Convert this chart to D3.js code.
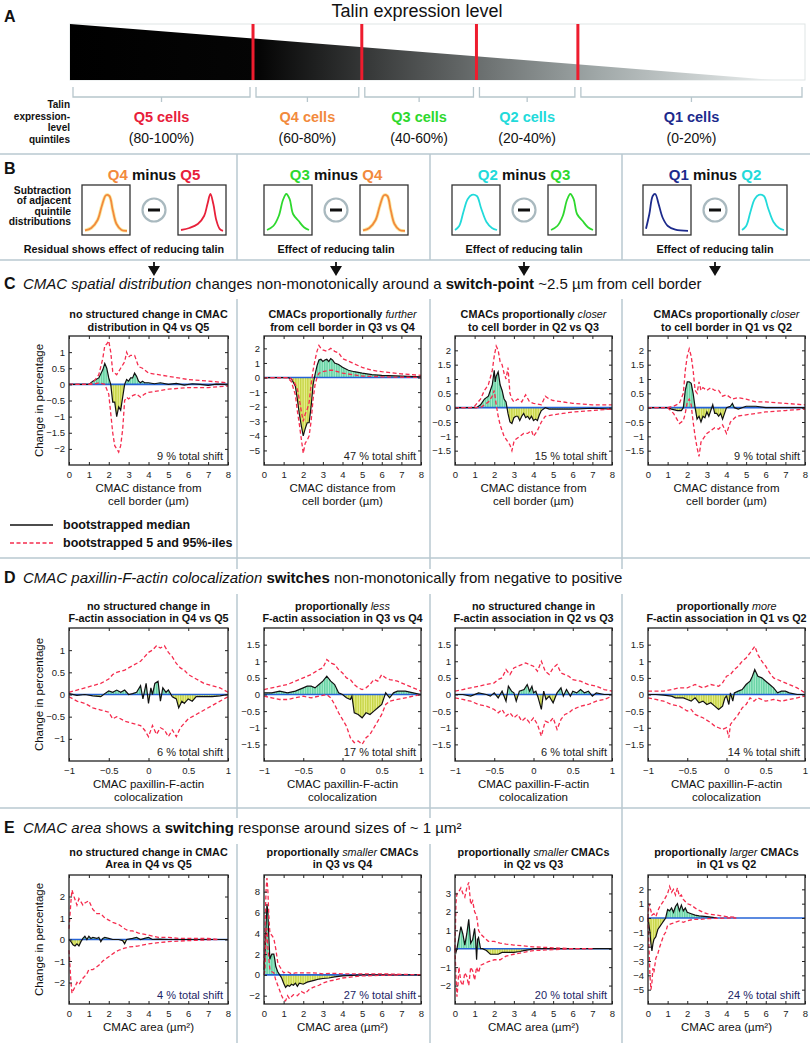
<!DOCTYPE html>
<html><head><meta charset="utf-8">
<script src="https://cdn.jsdelivr.net/npm/d3@7"></script>
<style>body{margin:0;background:#fff}svg{display:block}text{white-space:pre}</style>
</head><body>
<svg id="fig" width="810" height="1043"></svg>
<script>
// ---------------- DATA ----------------
const quintiles = ["Q5","Q4","Q3","Q2","Q1"];
const quintileRanges = ["(80-100%)","(60-80%)","(40-60%)","(20-40%)","(0-20%)"];
const quintileColors = {Q5:"#e8203a",Q4:"#f28a3c",Q3:"#2ed82e",Q2:"#22dada",Q1:"#1c2a8c"};
const talinBoundaries = [75.1, 60.3, 44.7, 30.9];   // expression level (%) at the red cut lines
const wedgeEndLevel = 4.1;                          // level where the wedge reaches zero
const comparisons = [["Q4","Q5"],["Q3","Q4"],["Q2","Q3"],["Q1","Q2"]];
const effectLabels = ["Residual shows effect of reducing talin","Effect of reducing talin","Effect of reducing talin","Effect of reducing talin"];
// schematic distributions in panel B (position 0-1, relative height 0-1)
const miniCurves = {
  Q5:[[0,0.05],[0.2,0.1],[0.4,0.2],[0.55,0.4],[0.63,0.7],[0.7,0.95],[0.77,0.7],[0.84,0.3],[0.92,0.08],[1,0.03]],
  Q4:[[0,0.04],[0.15,0.1],[0.3,0.3],[0.4,0.65],[0.5,0.92],[0.58,0.9],[0.66,0.55],[0.75,0.2],[0.87,0.05],[1,0.03]],
  Q3:[[0,0.05],[0.15,0.15],[0.28,0.4],[0.38,0.8],[0.46,0.95],[0.54,0.82],[0.62,0.45],[0.75,0.28],[0.88,0.12],[1,0.05]],
  Q2:[[0,0.05],[0.1,0.15],[0.2,0.5],[0.3,0.82],[0.4,0.93],[0.52,0.9],[0.62,0.6],[0.75,0.25],[0.88,0.1],[1,0.05]],
  Q1:[[0,0.08],[0.08,0.45],[0.16,0.9],[0.22,0.95],[0.3,0.7],[0.4,0.35],[0.52,0.15],[0.7,0.06],[1,0.03]]
};
const headingC = "*CMAC spatial distribution* changes non-monotonically around a **switch-point** ~2.5 µm from cell border";
const headingD = "*CMAC paxillin-F-actin colocalization* **switches** non-monotonically from negative to positive";
const headingE = "*CMAC area* shows a **switching** response around sizes of ~ 1 µm²";

const titlesC = [["no structured change in CMAC","distribution in Q4 vs Q5"],["CMACs proportionally *further*","from cell border in Q3 vs Q4"],["CMACs proportionally *closer*","to cell border in Q2 vs Q3"],["CMACs proportionally *closer*","to cell border in Q1 vs Q2"]];
const titlesD = [["no structured change in","F-actin association in Q4 vs Q5"],["proportionally *less*","F-actin association in Q3 vs Q4"],["no structured change in","F-actin association in Q2 vs Q3"],["proportionally *more*","F-actin association in Q1 vs Q2"]];
const titlesE = [["no structured change in CMAC","Area in Q4 vs Q5"],["proportionally *smaller* CMACs","in Q3 vs Q4"],["proportionally *smaller* CMACs","in Q2 vs Q3"],["proportionally *larger* CMACs","in Q1 vs Q2"]];
const shiftC = [9,47,15,9], shiftD = [6,17,6,14], shiftE = [4,27,20,24];
const xLabelC = ["CMAC distance from","cell border (µm)"], xLabelD = ["CMAC paxillin-F-actin","colocalization"], xLabelE = ["CMAC area (µm²)"];
const yLabel = "Change in percentage";
const legendLabels = ["bootstrapped median","bootstrapped 5 and 95%-iles"];

const xTicksC = [0,1,2,3,4,5,6,7,8], xTicksD = [-1,-0.5,0,0.5,1], xTicksE = [0,1,2,3,4,5,6,7,8];
const yDomC = [[-2.5,1.5],[-6,2.85],[-2,2.5],[-2,2.5]];
const yTicksC = [[-2,-1.5,-1,-0.5,0,0.5,1],[-5,-4,-3,-2,-1,0,1,2],[-1.5,-1,-0.5,0,0.5,1,1.5,2],[-1.5,-1,-0.5,0,0.5,1,1.5,2]];
const yDomD = [[-1.5,1.5],[-2,2],[-2,2],[-2,2]];
const yTicksD = [[-1,-0.5,0,0.5,1],[-1.5,-1,-0.5,0,0.5,1,1.5],[-1.5,-1,-0.5,0,0.5,1,1.5],[-1.5,-1,-0.5,0,0.5,1,1.5]];
const yDomE = [[-3,3],[-2.8,9.6],[-3,4],[-6,3]];
const yTicksE = [[-2,-1,0,1,2],[-2,0,2,4,6,8],[-2,-1,0,1,2,3],[-5,-4,-3,-2,-1,0,1,2]];

// Panel C : CMAC distance from cell border (µm) vs change (%)
const c1Median = [[0,0],[1,0],[1.2,0.1],[1.5,0.2],[1.7,0.45],[1.8,0.65],[1.9,0.5],[2.0,0.2],[2.1,0],[2.2,-0.55],[2.3,-0.55],[2.4,-1.0],[2.5,-0.7],[2.6,-0.8],[2.7,-0.4],[2.8,0],[2.9,0.15],[3.0,0.1],[3.1,0.2],[3.2,0.2],[3.3,0.35],[3.4,0.25],[3.5,0.1],[3.6,0.05],[3.7,0.1],[3.8,0.05],[4.0,0.05],[4.3,0.02],[4.6,0.05],[5.0,0],[5.4,0.03],[5.8,-0.02],[6.2,0.02],[6.6,0],[7.0,-0.03],[7.4,0.01],[8,0]];
const c1Upper = [[0,0],[1.0,0],[1.2,0.05],[1.5,0.3],[1.7,0.8],[1.8,1.2],[1.9,1.25],[2.0,1.35],[2.1,1.0],[2.2,0.4],[2.4,0.3],[2.6,0.5],[2.8,0.7],[2.9,1.0],[3.0,0.85],[3.1,0.9],[3.3,0.9],[3.5,0.55],[3.7,0.5],[4.0,0.35],[4.5,0.3],[5.0,0.25],[5.5,0.2],[6.0,0.15],[7.0,0.1],[8,0.05]];
const c1Lower = [[0,0],[1.2,0],[1.5,0.05],[1.8,0],[2.0,-0.3],[2.1,-0.9],[2.2,-1.5],[2.3,-1.9],[2.5,-2.1],[2.6,-1.9],[2.7,-1.4],[2.8,-0.5],[2.9,-0.4],[3.0,-0.45],[3.2,-0.35],[3.4,-0.3],[3.6,-0.4],[3.8,-0.3],[4.0,-0.25],[4.5,-0.2],[5.0,-0.15],[6.0,-0.1],[7.0,-0.1],[8,-0.05]];
const c2Median = [[0,0],[1.2,0],[1.4,-0.1],[1.6,-0.6],[1.7,-1.5],[1.8,-2.5],[1.9,-3.3],[2.0,-4.0],[2.1,-3.5],[2.2,-3.1],[2.3,-3.1],[2.4,-2.0],[2.5,-0.5],[2.6,0.2],[2.7,0.8],[2.8,1.2],[2.9,1.25],[3.0,1.1],[3.1,1.2],[3.2,1.25],[3.3,1.1],[3.4,1.3],[3.5,1.2],[3.6,1.0],[3.8,0.9],[4.0,0.7],[4.3,0.5],[4.6,0.4],[5.0,0.3],[5.5,0.2],[6.0,0.15],[7.0,0.1],[8,0.05]];
const c2Upper = [[0,0],[1.3,0],[1.5,-0.2],[1.7,-0.8],[1.8,-1.5],[1.9,-2.3],[2.0,-3.0],[2.1,-2.5],[2.2,-2.2],[2.3,-1.7],[2.4,-0.5],[2.5,0.5],[2.6,1.2],[2.7,1.8],[2.8,2.2],[2.9,2.0],[3.0,1.9],[3.2,1.8],[3.4,2.0],[3.6,1.8],[3.8,1.7],[4.0,1.3],[4.5,1.0],[5.0,0.7],[5.5,0.5],[6.0,0.4],[7.0,0.25],[8,0.15]];
const c2Lower = [[0,0],[1.2,0],[1.4,-0.3],[1.6,-1.2],[1.7,-2.3],[1.8,-3.2],[1.9,-4.2],[2.0,-5.2],[2.1,-4.5],[2.2,-4.3],[2.3,-4.0],[2.4,-3.0],[2.5,-1.5],[2.6,-0.5],[2.7,0],[2.8,0.3],[3.0,0.4],[3.3,0.5],[3.5,0.5],[4.0,0.3],[4.5,0.2],[5.0,0.1],[6.0,0.05],[8,0]];
const c3Median = [[0,0],[1.1,0],[1.3,0.1],[1.5,0.3],[1.7,0.4],[1.8,0.6],[1.9,0.8],[2.0,1.3],[2.05,0.9],[2.1,1.1],[2.2,1.25],[2.3,0.8],[2.4,0.6],[2.5,0.3],[2.6,0.2],[2.7,-0.2],[2.8,-0.5],[2.9,-0.55],[3.0,-0.35],[3.1,-0.3],[3.2,-0.3],[3.3,-0.45],[3.4,-0.3],[3.5,-0.2],[3.6,-0.35],[3.7,-0.3],[3.8,-0.4],[3.9,-0.3],[4.0,-0.45],[4.1,-0.4],[4.2,-0.45],[4.3,-0.25],[4.4,-0.1],[4.6,0],[4.8,-0.05],[5.0,-0.05],[5.5,-0.05],[6.0,-0.05],[7.0,-0.02],[8,-0.05]];
const c3Upper = [[0,0],[0.8,0],[1.0,0.05],[1.3,0.3],[1.5,0.6],[1.7,0.8],[1.9,1.3],[2.0,1.8],[2.1,2.15],[2.2,2.0],[2.3,1.6],[2.4,1.5],[2.5,1.2],[2.6,1.0],[2.7,1.4],[2.8,0.5],[2.9,0.3],[3.0,0.2],[3.2,0.3],[3.4,0.2],[3.6,0.45],[3.8,0.2],[4.0,0.15],[4.4,0.1],[4.6,0.4],[4.8,0.3],[5.0,0.25],[5.5,0.2],[6.0,0.15],[7.0,0.1],[8,0.1]];
const c3Lower = [[0,0],[1.3,0],[1.5,0.1],[1.7,0.2],[1.9,0.4],[2.0,0.6],[2.1,0.1],[2.2,-0.3],[2.3,-0.6],[2.5,-1.0],[2.7,-1.2],[2.8,-1.3],[2.9,-1.5],[3.0,-1.2],[3.1,-1.1],[3.3,-1.0],[3.5,-0.9],[3.7,-0.9],[3.9,-0.8],[4.0,-1.0],[4.2,-0.8],[4.4,-0.5],[4.6,-0.3],[5.0,-0.25],[5.5,-0.2],[6.0,-0.15],[7.0,-0.1],[8,-0.05]];
const c4Median = [[0,0],[1.0,0],[1.2,-0.05],[1.5,-0.1],[1.7,-0.1],[1.8,0],[1.9,0.6],[2.0,0.9],[2.1,0.9],[2.2,0.85],[2.3,0.5],[2.4,0],[2.5,-0.4],[2.6,-0.3],[2.7,-0.5],[2.8,-0.3],[2.9,-0.35],[3.0,-0.15],[3.1,-0.3],[3.2,-0.1],[3.3,0.1],[3.4,-0.2],[3.5,-0.2],[3.6,-0.3],[3.7,-0.2],[3.8,-0.4],[3.9,-0.2],[4.0,0],[4.2,0.05],[4.3,0.15],[4.4,0],[4.6,-0.05],[5.0,0.05],[5.5,0.05],[6.0,0],[7.0,0],[8,0]];
const c4Upper = [[0,0],[1.0,0],[1.3,0.05],[1.6,0.15],[1.8,0.5],[1.9,1.3],[2.0,1.8],[2.1,2.05],[2.2,1.8],[2.3,1.3],[2.4,0.6],[2.5,0.5],[2.6,0.9],[2.7,0.6],[2.8,0.7],[3.0,0.6],[3.2,0.7],[3.4,0.6],[3.6,0.6],[3.8,0.4],[4.0,0.45],[4.3,0.3],[4.6,0.35],[5.0,0.3],[5.5,0.2],[6.0,0.2],[7.0,0.15],[8,0.1]];
const c4Lower = [[0,0],[1.0,0],[1.3,-0.2],[1.6,-0.55],[1.8,-0.45],[1.9,-0.2],[2.0,0.2],[2.1,0.3],[2.2,0.1],[2.3,-0.5],[2.4,-1.0],[2.5,-1.4],[2.6,-1.7],[2.7,-1.2],[2.8,-1.1],[3.0,-0.9],[3.2,-0.8],[3.4,-0.7],[3.6,-0.75],[3.8,-0.6],[4.0,-0.9],[4.2,-0.5],[4.5,-0.3],[5.0,-0.25],[5.5,-0.2],[6.0,-0.15],[7.0,-0.1],[8,-0.05]];

// Panel D : paxillin-F-actin colocalization vs change (%)
const d1Median = [[-1,0.02],[-0.9,-0.02],[-0.8,0],[-0.7,-0.03],[-0.6,-0.05],[-0.55,0.02],[-0.5,0.08],[-0.45,0.05],[-0.4,0.1],[-0.35,0.05],[-0.3,0.1],[-0.25,0],[-0.2,0.02],[-0.15,0.05],[-0.1,0.2],[-0.07,-0.1],[-0.03,0.25],[0,-0.2],[0.03,0.15],[0.05,0],[0.08,0.25],[0.12,0.3],[0.15,-0.15],[0.18,0.15],[0.22,0.05],[0.25,0.1],[0.3,-0.05],[0.35,-0.1],[0.38,-0.3],[0.42,-0.15],[0.45,-0.2],[0.5,-0.1],[0.55,-0.15],[0.6,-0.05],[0.7,-0.05],[0.8,-0.05],[0.9,-0.03],[1,0]];
const d1Upper = [[-1,0.05],[-0.9,0.1],[-0.8,0.15],[-0.7,0.2],[-0.6,0.25],[-0.5,0.35],[-0.45,0.45],[-0.4,0.5],[-0.3,0.55],[-0.25,0.6],[-0.2,0.65],[-0.1,0.75],[-0.05,0.85],[0,0.95],[0.05,1.0],[0.1,1.1],[0.15,1.05],[0.2,1.1],[0.25,0.95],[0.3,0.85],[0.35,0.7],[0.4,0.6],[0.45,0.55],[0.5,0.45],[0.6,0.35],[0.7,0.25],[0.8,0.2],[0.9,0.15],[1,0.05]];
const d1Lower = [[-1,-0.05],[-0.9,-0.15],[-0.8,-0.2],[-0.7,-0.3],[-0.6,-0.35],[-0.5,-0.4],[-0.45,-0.55],[-0.4,-0.5],[-0.3,-0.6],[-0.2,-0.65],[-0.1,-0.7],[-0.05,-0.8],[0,-0.95],[0.05,-0.7],[0.1,-0.9],[0.15,-0.75],[0.2,-0.8],[0.25,-0.95],[0.3,-0.8],[0.35,-0.95],[0.4,-0.75],[0.45,-0.65],[0.5,-0.55],[0.6,-0.45],[0.7,-0.35],[0.8,-0.25],[0.9,-0.15],[1,-0.05]];
const d2Median = [[-1,0.05],[-0.9,0.05],[-0.8,0.1],[-0.7,0.05],[-0.6,0.1],[-0.5,0.2],[-0.45,0.25],[-0.4,0.25],[-0.35,0.2],[-0.3,0.3],[-0.25,0.4],[-0.2,0.55],[-0.15,0.4],[-0.1,0.3],[-0.05,0.05],[0,0],[0.05,-0.1],[0.1,-0.15],[0.12,-0.05],[0.15,-0.55],[0.2,-0.6],[0.25,-0.7],[0.3,-0.55],[0.35,-0.6],[0.4,-0.5],[0.45,-0.4],[0.5,-0.3],[0.55,0.05],[0.6,-0.1],[0.65,0.05],[0.7,0.1],[0.8,0.1],[0.9,0.05],[1,0]];
const d2Upper = [[-1,0.15],[-0.9,0.2],[-0.8,0.25],[-0.7,0.3],[-0.6,0.4],[-0.5,0.5],[-0.4,0.6],[-0.3,0.75],[-0.25,0.8],[-0.2,1.05],[-0.15,0.95],[-0.1,0.9],[-0.05,0.75],[0,0.65],[0.05,0.5],[0.1,0.45],[0.15,0.3],[0.2,0.2],[0.25,0.15],[0.3,0.2],[0.35,0.3],[0.4,0.45],[0.45,0.4],[0.5,0.6],[0.55,0.5],[0.6,0.45],[0.7,0.4],[0.8,0.3],[0.9,0.2],[1,0.1]];
const d2Lower = [[-1,-0.05],[-0.9,-0.1],[-0.8,-0.15],[-0.7,-0.15],[-0.6,-0.1],[-0.5,-0.05],[-0.4,-0.1],[-0.3,-0.05],[-0.2,0],[-0.15,-0.1],[-0.1,-0.3],[-0.05,-0.55],[0,-0.75],[0.05,-0.95],[0.1,-1.3],[0.15,-1.45],[0.2,-1.4],[0.25,-1.5],[0.3,-1.3],[0.35,-1.2],[0.4,-1.0],[0.45,-0.8],[0.5,-0.6],[0.55,-0.3],[0.6,-0.2],[0.7,-0.15],[0.8,-0.1],[0.9,-0.05],[1,0]];
const d3Median = [[-1,0],[-0.9,0],[-0.8,-0.05],[-0.7,0.05],[-0.6,0],[-0.55,-0.05],[-0.5,0.05],[-0.45,-0.1],[-0.4,0.1],[-0.35,-0.2],[-0.32,0.25],[-0.28,0.1],[-0.25,0.05],[-0.22,-0.2],[-0.18,0.1],[-0.12,0.15],[-0.08,0.3],[-0.05,0.1],[-0.02,0.25],[0,0.05],[0.03,0.1],[0.06,-0.1],[0.1,-0.45],[0.13,0.1],[0.16,-0.15],[0.2,-0.05],[0.25,-0.25],[0.3,0.05],[0.35,0.2],[0.38,-0.05],[0.42,0.15],[0.47,-0.05],[0.5,0.1],[0.55,0.05],[0.6,0.15],[0.65,0.05],[0.7,0.1],[0.75,-0.05],[0.8,0.05],[0.9,0],[1,0]];
const d3Upper = [[-1,0.1],[-0.9,0.15],[-0.8,0.2],[-0.7,0.25],[-0.6,0.3],[-0.5,0.35],[-0.45,0.45],[-0.4,0.5],[-0.35,0.75],[-0.3,0.6],[-0.25,0.8],[-0.2,0.85],[-0.15,0.9],[-0.1,0.95],[-0.05,0.9],[0,0.85],[0.05,0.7],[0.1,1.0],[0.15,0.7],[0.2,0.6],[0.25,0.8],[0.3,0.9],[0.35,0.65],[0.4,0.6],[0.45,0.55],[0.5,0.45],[0.6,0.4],[0.7,0.3],[0.8,0.25],[0.9,0.15],[1,0.1]];
const d3Lower = [[-1,-0.1],[-0.9,-0.15],[-0.8,-0.2],[-0.7,-0.3],[-0.6,-0.35],[-0.5,-0.45],[-0.45,-0.55],[-0.4,-0.45],[-0.35,-0.65],[-0.3,-0.55],[-0.25,-0.7],[-0.2,-0.6],[-0.15,-0.8],[-0.1,-0.7],[-0.05,-0.85],[0,-0.7],[0.05,-0.9],[0.1,-1.25],[0.15,-0.8],[0.2,-0.85],[0.25,-0.7],[0.3,-1.05],[0.35,-0.75],[0.4,-0.6],[0.45,-0.55],[0.5,-0.45],[0.6,-0.35],[0.7,-0.3],[0.8,-0.2],[0.9,-0.15],[1,-0.05]];
const d4Median = [[-1,0],[-0.9,0],[-0.8,-0.02],[-0.7,-0.05],[-0.65,-0.1],[-0.6,-0.1],[-0.55,-0.1],[-0.5,-0.15],[-0.45,-0.2],[-0.4,-0.1],[-0.35,-0.25],[-0.3,-0.2],[-0.25,-0.3],[-0.2,-0.25],[-0.15,-0.35],[-0.1,-0.45],[-0.05,-0.35],[-0.02,-0.1],[0,-0.05],[0.03,-0.3],[0.05,0.05],[0.08,-0.2],[0.1,0.05],[0.15,0.1],[0.2,0.15],[0.25,0.3],[0.3,0.4],[0.33,0.55],[0.36,0.75],[0.4,0.55],[0.45,0.5],[0.5,0.4],[0.55,0.3],[0.6,0.2],[0.65,0.05],[0.7,0.1],[0.75,0.1],[0.8,0.05],[0.9,0],[1,0]];
const d4Upper = [[-1,0.1],[-0.9,0.1],[-0.8,0.1],[-0.7,0.15],[-0.6,0.2],[-0.5,0.2],[-0.4,0.3],[-0.3,0.2],[-0.2,0.3],[-0.1,0.25],[-0.05,0.35],[0,0.55],[0.05,0.6],[0.1,0.75],[0.15,0.85],[0.2,1.0],[0.25,1.1],[0.3,1.25],[0.36,1.45],[0.4,1.2],[0.45,1.0],[0.5,0.85],[0.55,0.65],[0.6,0.5],[0.7,0.4],[0.8,0.3],[0.9,0.2],[1,0.05]];
const d4Lower = [[-1,-0.1],[-0.9,-0.15],[-0.8,-0.2],[-0.7,-0.3],[-0.6,-0.35],[-0.5,-0.5],[-0.45,-0.45],[-0.4,-0.6],[-0.3,-0.7],[-0.2,-0.85],[-0.15,-0.95],[-0.1,-1.0],[-0.05,-1.05],[0,-1.0],[0.03,-1.3],[0.05,-0.9],[0.1,-0.75],[0.15,-0.6],[0.2,-0.4],[0.25,-0.3],[0.3,-0.1],[0.35,-0.2],[0.4,-0.1],[0.5,-0.2],[0.6,-0.15],[0.7,-0.2],[0.8,-0.15],[0.9,-0.1],[1,-0.05]];

// Panel E : CMAC area (µm²) vs change (%)
const e1Median = [[0,0],[0.1,-0.1],[0.2,-0.25],[0.3,-0.3],[0.4,-0.2],[0.5,-0.3],[0.6,-0.1],[0.7,0.05],[0.8,0.15],[0.9,0],[1.0,0.15],[1.1,0.05],[1.2,0.1],[1.4,0.05],[1.5,0.1],[1.6,-0.1],[1.7,0.05],[1.8,0.1],[2.0,0.05],[2.2,0],[2.5,0],[2.7,-0.05],[2.8,-0.2],[2.9,0],[3.2,0.05],[3.4,0.1],[3.6,0],[3.8,0.05],[4.0,0.1],[4.2,0],[4.5,0.02],[5,0],[8,0]];
const e1Upper = [[0,0.5],[0.1,1.8],[0.15,2.3],[0.25,2.0],[0.4,1.6],[0.5,1.9],[0.7,1.6],[0.8,1.7],[1.0,1.8],[1.2,1.4],[1.4,1.2],[1.6,1.2],[1.8,1.0],[2.0,0.9],[2.2,0.8],[2.5,0.7],[2.8,0.5],[3.0,0.4],[3.2,0.4],[3.5,0.3],[4.0,0.2],[4.5,0.1],[5.0,0.1],[5.5,0.05],[6.0,0.05],[7.0,0.05],[7.5,0]];
const e1Lower = [[0,-0.5],[0.1,-2.0],[0.15,-2.5],[0.3,-2.2],[0.4,-2.0],[0.5,-2.1],[0.7,-1.8],[0.9,-1.6],[1.0,-1.4],[1.2,-1.4],[1.5,-1.2],[1.7,-1.0],[2.0,-0.8],[2.3,-0.6],[2.5,-0.5],[2.8,-0.4],[3.0,-0.35],[3.5,-0.3],[4.0,-0.2],[4.5,-0.15],[5.0,-0.1],[6.0,-0.05],[7.0,-0.02],[7.5,0]];
const e2Median = [[0,0.5],[0.05,2.0],[0.1,4.5],[0.15,6.8],[0.2,6.0],[0.25,3.5],[0.3,1.5],[0.35,1.8],[0.4,2.0],[0.5,2.0],[0.55,1.5],[0.6,0.8],[0.7,0.3],[0.8,0],[0.9,-0.3],[1.0,-0.8],[1.1,-1.2],[1.2,-1.0],[1.3,-1.1],[1.4,-0.9],[1.5,-1.0],[1.6,-0.8],[1.7,-1.1],[1.8,-0.8],[2.0,-0.9],[2.2,-0.7],[2.4,-0.6],[2.6,-0.5],[2.8,-0.4],[3.0,-0.35],[3.3,-0.3],[3.6,-0.2],[4.0,-0.1],[4.5,-0.05],[5,0],[8,0]];
const e2Upper = [[0,1.0],[0.05,4.0],[0.1,8.0],[0.15,9.3],[0.2,8.0],[0.25,5.5],[0.3,4.0],[0.4,3.8],[0.5,3.5],[0.6,2.5],[0.7,1.2],[0.8,0.8],[0.9,0.5],[1.0,0.2],[1.2,0.3],[1.4,0.1],[1.6,0.2],[1.8,0.2],[2.0,0.2],[2.5,0.2],[3.0,0.1],[3.5,0.15],[4.0,0.1],[5.0,0.1],[6.0,0.1],[7.0,0.05],[8,0]];
const e2Lower = [[0,0],[0.05,0.5],[0.1,3.5],[0.15,4.5],[0.2,2.5],[0.3,0.5],[0.4,0.3],[0.5,0.2],[0.6,-0.5],[0.7,-1.0],[0.8,-1.5],[0.9,-2.0],[1.0,-2.4],[1.1,-2.5],[1.2,-2.0],[1.3,-2.3],[1.5,-1.9],[1.7,-2.0],[1.9,-1.6],[2.1,-1.8],[2.3,-1.4],[2.5,-1.2],[2.8,-1.0],[3.0,-0.8],[3.3,-0.6],[3.6,-0.5],[4.0,-0.3],[4.5,-0.2],[5.0,-0.1],[6.0,-0.05],[7.0,0]];
const e3Median = [[0,0],[0.05,-0.2],[0.1,0],[0.2,0.6],[0.3,1.2],[0.4,0.8],[0.5,0.2],[0.6,0.8],[0.7,1.6],[0.8,0.3],[0.9,0.5],[1.0,1.1],[1.05,0.5],[1.1,-0.6],[1.15,0.5],[1.2,0.6],[1.3,0],[1.4,0],[1.6,-0.1],[1.7,-0.2],[1.8,-0.3],[2.0,-0.3],[2.2,-0.3],[2.4,-0.2],[2.6,-0.2],[2.8,-0.2],[3.0,-0.2],[3.3,-0.15],[3.5,-0.1],[3.8,-0.05],[4,0],[8,0]];
const e3Upper = [[0,0],[0.05,2.5],[0.1,3.0],[0.2,3.1],[0.3,3.3],[0.4,3.0],[0.5,2.8],[0.6,3.3],[0.7,3.6],[0.8,2.4],[0.9,2.6],[1.0,2.0],[1.1,1.8],[1.2,1.0],[1.3,0.8],[1.5,0.6],[1.7,0.4],[2.0,0.4],[2.3,0.3],[2.6,0.25],[3.0,0.2],[3.5,0.15],[4.0,0.1],[5.0,0.05],[6.0,0],[7,0]];
const e3Lower = [[0,0],[0.05,-1.5],[0.1,-2.6],[0.15,-2.0],[0.2,-1.0],[0.3,-1.8],[0.4,-2.0],[0.5,-1.3],[0.6,-1.5],[0.7,-2.0],[0.8,-1.0],[0.9,-1.2],[1.0,-1.7],[1.1,-1.0],[1.2,-1.3],[1.3,-0.9],[1.5,-0.8],[1.7,-0.7],[2.0,-0.6],[2.3,-0.6],[2.6,-0.4],[3.0,-0.3],[3.5,-0.2],[4.0,-0.1],[5.0,-0.05],[6.0,0],[7,0]];
const e4Median = [[0,0],[0.05,-0.5],[0.1,-1.0],[0.15,-1.8],[0.2,-2.3],[0.25,-1.8],[0.3,-1.5],[0.4,-1.3],[0.5,-0.8],[0.6,-0.6],[0.7,-0.4],[0.8,-0.2],[0.9,0],[1.0,0.6],[1.1,0.5],[1.2,0.7],[1.3,0.4],[1.4,0.8],[1.5,1.0],[1.6,0.5],[1.7,0.9],[1.8,0.5],[1.9,0.7],[2.0,0.4],[2.2,0.3],[2.4,0.2],[2.6,0.15],[3.0,0.1],[3.3,0.05],[3.5,0]];
const e4Upper = [[0,0],[0.05,1.0],[0.15,0.5],[0.2,0.2],[0.3,0.3],[0.4,0.1],[0.5,0.5],[0.6,0.8],[0.8,1.2],[1.0,1.7],[1.1,2.2],[1.2,1.8],[1.3,2.0],[1.4,1.6],[1.5,2.1],[1.6,1.5],[1.7,1.6],[1.8,1.3],[2.0,1.0],[2.2,0.9],[2.5,0.6],[2.8,0.4],[3.0,0.3],[3.5,0.2],[4.0,0.1],[4.5,0.05]];
const e4Lower = [[0,0],[0.05,-2.0],[0.1,-4.0],[0.15,-5.0],[0.2,-4.5],[0.25,-3.5],[0.3,-3.8],[0.4,-2.8],[0.5,-2.5],[0.6,-2.0],[0.7,-1.6],[0.8,-1.2],[0.9,-1.0],[1.0,-0.5],[1.2,-0.4],[1.4,-0.3],[1.6,-0.2],[1.8,-0.3],[2.0,-0.2],[2.3,-0.1],[2.6,-0.1],[3.0,-0.05],[4.0,0],[4.5,0]];

// ---------------- DRAWING ----------------
const SANS = "'Liberation Sans', Arial, Helvetica, sans-serif";
const SEP = "#b9c9d0";
const RED = "#f52c4e";
const svg = d3.select("#fig");
const defs = svg.append("defs");
svg.append("rect").attr("width",810).attr("height",1043).attr("fill","#fff");

function pattern(id, base, stripe){
  const p = defs.append("pattern").attr("id",id).attr("patternUnits","userSpaceOnUse").attr("width",2.4).attr("height",6);
  p.append("rect").attr("width",2.4).attr("height",6).attr("fill",base);
  p.append("rect").attr("x",1.4).attr("width",0.9).attr("height",6).attr("fill",stripe);
}
pattern("patPos","#62d2a2","#b8f0d6");
pattern("patNeg","#c6d443","#eef3a2");

function rich(sel, x, y, str, o){
  const t = sel.append("text").attr("x",x).attr("y",y).attr("font-family",SANS)
    .attr("font-size",o.size).attr("font-weight",o.weight||"normal")
    .attr("text-anchor",o.anchor||"start").attr("fill",o.fill||"#111");
  str.split(/(\*\*[^*]+\*\*|\*[^*]+\*)/).filter(s=>s.length).forEach(p=>{
    const ts = t.append("tspan");
    if (p.startsWith("**")) ts.text(p.slice(2,-2)).attr("font-weight","bold");
    else if (p.startsWith("*")) ts.text(p.slice(1,-1)).attr("font-style","italic").attr("font-weight","normal");
    else ts.text(p);
  });
  return t;
}
function line(x1,y1,x2,y2,stroke,w){
  svg.append("line").attr("x1",x1).attr("y1",y1).attr("x2",x2).attr("y2",y2).attr("stroke",stroke).attr("stroke-width",w);
}

// ---- separators ----
line(0,154,810,154,SEP,1.5);
line(0,260,810,260,SEP,1.5);
line(0,558,810,558,SEP,1.5);
line(0,808,810,808,SEP,1.5);
[237,430,622].forEach((x,i)=>{
  line(x,154,x,260,SEP,1.5);
  line(x,299,x,569,SEP,1.5);
  line(x,594,x,i<2?818:1043,SEP,1.5);
  if (i<2) line(x,844,x,1043,SEP,1.5);
});

// ---- panel letters & headings ----
[["A",22],["B",174],["C",289],["D",583],["E",833]].forEach(([l,y])=>{
  svg.append("text").attr("x",4).attr("y",y).attr("font-family",SANS).attr("font-weight","bold").attr("font-size",16).attr("fill","#111").text(l);
});
rich(svg,23,289,headingC,{size:15});
rich(svg,23,583,headingD,{size:15});
rich(svg,23,833,headingE,{size:15});

// ---- Panel A ----
const aX = d3.scaleLinear([100,0],[70,805]);
const grad = defs.append("linearGradient").attr("id","talinGrad").attr("x1",0).attr("x2",1).attr("y1",0).attr("y2",0);
[[0,"#000"],[0.27,"#050505"],[0.5,"#505353"],[0.75,"#a0a8a8"],[1,"#eaeeee"]].forEach(([o,c])=>grad.append("stop").attr("offset",o).attr("stop-color",c));
svg.append("text").attr("x",417).attr("y",17).attr("text-anchor","middle").attr("font-family",SANS).attr("font-size",18).attr("fill","#111").text("Talin expression level");
svg.append("rect").attr("x",aX(100)).attr("y",24).attr("width",aX(0)-aX(100)).attr("height",56).attr("fill","none").attr("stroke","#dfe5e5").attr("stroke-width",1);
svg.append("path").attr("d",`M${aX(100)},24L${aX(wedgeEndLevel)},80L${aX(100)},80Z`).attr("fill","url(#talinGrad)");
talinBoundaries.forEach(l=>line(aX(l),24,aX(l),80,"#ee1c2e",3));
const edges = [100,...talinBoundaries,0];
quintiles.forEach((q,i)=>{
  const x0 = aX(edges[i])+3, x1 = aX(edges[i+1])-3, mid = (aX(edges[i])+aX(edges[i+1]))/2;
  svg.append("path").attr("d",`M${x0},87V97H${x1}V87M${mid},97V102`).attr("fill","none").attr("stroke","#b7c6cc").attr("stroke-width",1.3);
  svg.append("text").attr("x",mid).attr("y",122).attr("text-anchor","middle").attr("font-family",SANS).attr("font-weight","bold").attr("font-size",14.5).attr("fill",quintileColors[q]).text(q+" cells");
  svg.append("text").attr("x",mid).attr("y",143).attr("text-anchor","middle").attr("font-family",SANS).attr("font-size",14).attr("fill","#111").text(quintileRanges[i]);
});
["Talin","expression-","level","quintiles"].forEach((s,i)=>{
  svg.append("text").attr("x",70).attr("y",108+i*11.7).attr("text-anchor","end").attr("font-family",SANS).attr("font-weight","bold").attr("font-size",10).attr("fill","#111").text(s);
});

// ---- Panel B ----
const bCenters = [154,336,524,715];
["Subtraction","of adjacent","quintile","distributions"].forEach((s,i)=>{
  svg.append("text").attr("x",71).attr("y",194+i*10.3).attr("text-anchor","end").attr("font-family",SANS).attr("font-weight","bold").attr("font-size",10.3).attr("fill","#111").text(s);
});
function miniBox(x, q){
  svg.append("rect").attr("x",x).attr("y",185).attr("width",48).attr("height",50).attr("fill","#fff").attr("stroke","#333").attr("stroke-width",1.3);
  const mx = d3.scaleLinear([0,1],[x+3,x+45]), my = d3.scaleLinear([0,1],[185+47,185+7]);
  const ln = d3.line().x(d=>mx(d[0])).y(d=>my(d[1])).curve(d3.curveCatmullRom);
  if (q==="Q4") svg.append("path").attr("d",ln(miniCurves[q])).attr("fill","none").attr("stroke","#f8e070").attr("stroke-width",3.5).attr("opacity",0.6);
  svg.append("path").attr("d",ln(miniCurves[q])).attr("fill","none").attr("stroke",quintileColors[q]).attr("stroke-width",1.8);
}
comparisons.forEach(([a,b],i)=>{
  const cx = bCenters[i];
  const t = svg.append("text").attr("x",cx).attr("y",180).attr("text-anchor","middle").attr("font-family",SANS).attr("font-weight","bold").attr("font-size",15);
  t.append("tspan").attr("fill",quintileColors[a]).text(a);
  t.append("tspan").attr("fill","#111").text(" minus ");
  t.append("tspan").attr("fill",quintileColors[b]).text(b);
  miniBox(cx-72,a); miniBox(cx+24,b);
  svg.append("circle").attr("cx",cx).attr("cy",210).attr("r",11.5).attr("fill","#fff").attr("stroke","#a9b9bf").attr("stroke-width",2.2);
  svg.append("rect").attr("x",cx-6).attr("y",208.5).attr("width",12).attr("height",3).attr("fill","#111");
  svg.append("text").attr("x",i===0?124:cx).attr("y",253).attr("text-anchor","middle").attr("font-family",SANS).attr("font-weight","bold").attr("font-size",10.8).attr("fill","#111").text(effectLabels[i]);
  svg.append("line").attr("x1",cx).attr("y1",262).attr("x2",cx).attr("y2",268).attr("stroke","#111").attr("stroke-width",1.8);
  svg.append("path").attr("d",`M${cx-6},266L${cx+6},266L${cx},276Z`).attr("fill","#111");
});

// ---- plots ----
const cols = [[69,228],[264,421],[455,612],[648,805]];
const fmt = d3.format("~g");
let clipN = 0;
function plot(cfg){
  const [l,r] = cfg.col, t = cfg.top, b = cfg.bottom;
  const x = d3.scaleLinear(cfg.xDom,[l,r]);
  const y = d3.scaleLinear(cfg.yDom,[b,t]);
  const g = svg.append("g");
  const idA = "clipA"+(clipN), idB = "clipB"+(clipN++);
  defs.append("clipPath").attr("id",idA).append("rect").attr("x",l).attr("y",t).attr("width",r-l).attr("height",y(0)-t);
  defs.append("clipPath").attr("id",idB).append("rect").attr("x",l).attr("y",y(0)).attr("width",r-l).attr("height",b-y(0));
  const area = d3.area().x(d=>x(d[0])).y0(y(0)).y1(d=>y(d[1]));
  g.append("path").attr("d",area(cfg.median)).attr("fill","url(#patPos)").attr("clip-path",`url(#${idA})`);
  g.append("path").attr("d",area(cfg.median)).attr("fill","url(#patNeg)").attr("clip-path",`url(#${idB})`);
  g.append("line").attr("x1",l).attr("x2",r).attr("y1",y(0)).attr("y2",y(0)).attr("stroke","#2563d6").attr("stroke-width",1.6);
  const ln = d3.line().x(d=>x(d[0])).y(d=>y(d[1]));
  g.append("path").attr("d",ln(cfg.median)).attr("fill","none").attr("stroke","#111").attr("stroke-width",1.2);
  [cfg.upper,cfg.lower].forEach(s=>g.append("path").attr("d",ln(s)).attr("fill","none").attr("stroke",RED).attr("stroke-width",1.3).attr("stroke-dasharray","4,2.5"));
  g.append("rect").attr("x",l).attr("y",t).attr("width",r-l).attr("height",b-t).attr("fill","none").attr("stroke","#222").attr("stroke-width",1.3);
  const style = a => { a.attr("font-family",SANS).attr("font-size",9.5); a.select(".domain").remove(); a.selectAll("line").attr("stroke","#222"); a.selectAll("text").attr("fill","#222"); };
  g.append("g").attr("transform",`translate(0,${b})`).call(d3.axisBottom(x).tickValues(cfg.xTicks).tickSize(-3).tickPadding(6).tickFormat(fmt)).call(style);
  g.append("g").attr("transform",`translate(0,${t})`).call(d3.axisTop(x).tickValues(cfg.xTicks).tickSize(-3).tickFormat("")).call(style);
  g.append("g").attr("transform",`translate(${l},0)`).call(d3.axisLeft(y).tickValues(cfg.yTicks).tickSize(-3).tickPadding(4).tickFormat(fmt)).call(style);
  g.append("g").attr("transform",`translate(${r},0)`).call(d3.axisRight(y).tickValues(cfg.yTicks).tickSize(-3).tickFormat("")).call(style);
  g.append("text").attr("x",r-5).attr("y",b-5).attr("text-anchor","end").attr("font-family",SANS).attr("font-size",11).attr("fill",cfg.shiftColor).text(cfg.shift+" % total shift");
  const cx = (l+r)/2;
  rich(g,cx,cfg.titleY[0],cfg.title[0],{size:10.8,weight:"bold",anchor:"middle"});
  rich(g,cx,cfg.titleY[1],cfg.title[1],{size:10.8,weight:"bold",anchor:"middle"});
  cfg.xLabel.forEach((s,i)=>g.append("text").attr("x",cx).attr("y",b+27+i*12.5).attr("text-anchor","middle").attr("font-family",SANS).attr("font-size",11.5).attr("fill","#111").text(s));
  if (cfg.showY) g.append("text").attr("transform",`translate(43,${(t+b)/2}) rotate(-90)`).attr("text-anchor","middle").attr("font-family",SANS).attr("font-size",11.5).attr("fill","#111").text(yLabel);
}
const cSeries = [[c1Median,c1Upper,c1Lower],[c2Median,c2Upper,c2Lower],[c3Median,c3Upper,c3Lower],[c4Median,c4Upper,c4Lower]];
const dSeries = [[d1Median,d1Upper,d1Lower],[d2Median,d2Upper,d2Lower],[d3Median,d3Upper,d3Lower],[d4Median,d4Upper,d4Lower]];
const eSeries = [[e1Median,e1Upper,e1Lower],[e2Median,e2Upper,e2Lower],[e3Median,e3Upper,e3Lower],[e4Median,e4Upper,e4Lower]];
for (let i=0;i<4;i++){
  plot({col:cols[i],top:336,bottom:465,xDom:[0,8],xTicks:xTicksC,yDom:yDomC[i],yTicks:yTicksC[i],median:cSeries[i][0],upper:cSeries[i][1],lower:cSeries[i][2],shift:shiftC[i],shiftColor:"#222",title:titlesC[i],titleY:[318,331],xLabel:xLabelC,showY:i===0});
  plot({col:cols[i],top:628,bottom:761,xDom:[-1,1],xTicks:xTicksD,yDom:yDomD[i],yTicks:yTicksD[i],median:dSeries[i][0],upper:dSeries[i][1],lower:dSeries[i][2],shift:shiftD[i],shiftColor:"#222",title:titlesD[i],titleY:[610,622],xLabel:xLabelD,showY:i===0});
  plot({col:cols[i],top:875,bottom:1004,xDom:[0,8],xTicks:xTicksE,yDom:yDomE[i],yTicks:yTicksE[i],median:eSeries[i][0],upper:eSeries[i][1],lower:eSeries[i][2],shift:shiftE[i],shiftColor:"#1c2566",title:titlesE[i],titleY:[856,868],xLabel:xLabelE,showY:i===0});
}

// ---- legend ----
line(10,525,53,525,"#111",1.5);
svg.append("line").attr("x1",10).attr("y1",543).attr("x2",53).attr("y2",543).attr("stroke",RED).attr("stroke-width",1.4).attr("stroke-dasharray","4,2.5");
legendLabels.forEach((s,i)=>svg.append("text").attr("x",63).attr("y",529+i*18).attr("font-family",SANS).attr("font-weight","bold").attr("font-size",12.5).attr("fill","#111").text(s));
</script>
</body></html>
